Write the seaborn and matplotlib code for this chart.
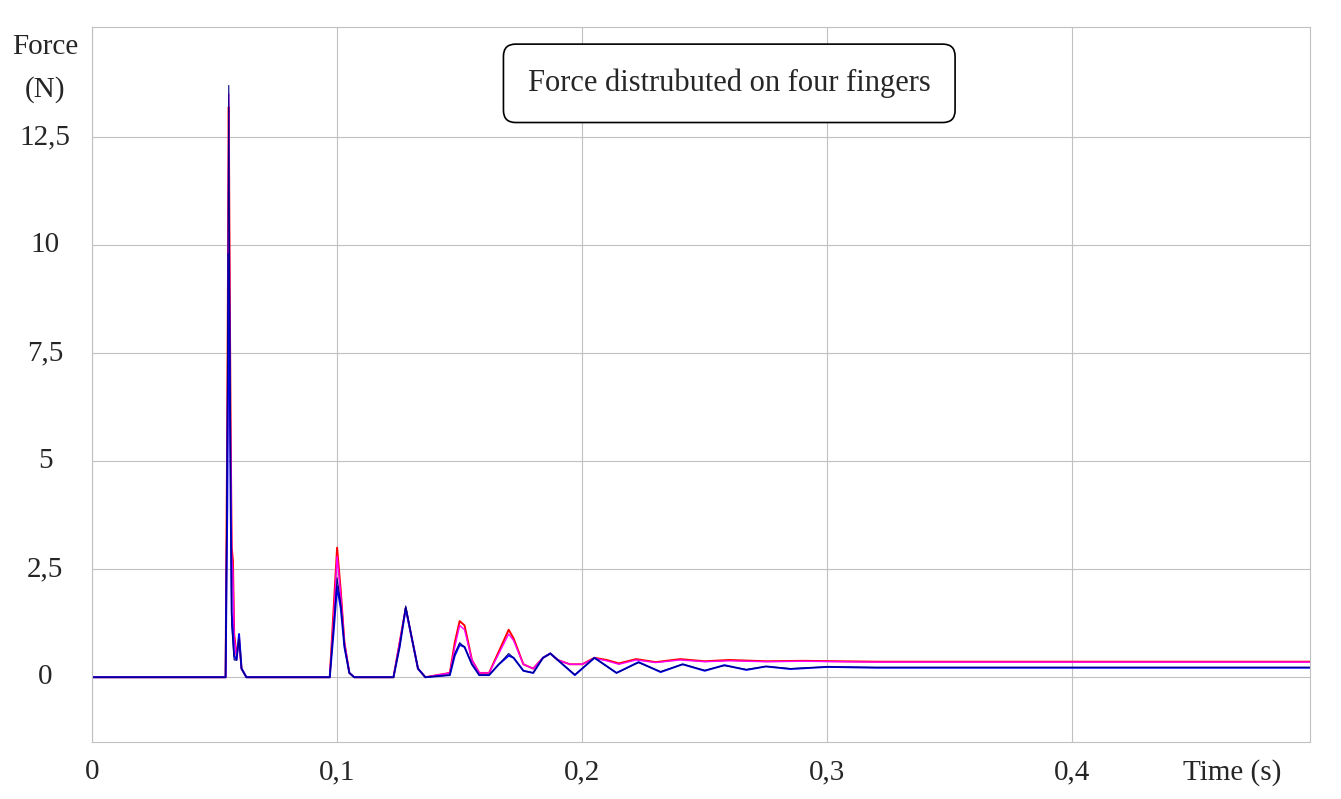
import matplotlib
matplotlib.use("Agg")
import matplotlib.pyplot as plt
import pandas as pd
import seaborn as sns

red_t = [0, 0.0545, 0.0552, 0.0558, 0.0562, 0.0566, 0.057, 0.0575, 0.058, 0.059, 0.060, 0.061, 0.063, 0.097,
         0.0985, 0.100, 0.1015, 0.103, 0.105, 0.107, 0.123, 0.1255, 0.128, 0.1305, 0.133, 0.136, 0.146,
         0.148, 0.150, 0.152, 0.155, 0.158, 0.162, 0.166, 0.170, 0.172, 0.176, 0.180, 0.184, 0.187,
         0.190, 0.195, 0.200, 0.205, 0.210, 0.215, 0.222, 0.230, 0.240, 0.250, 0.260, 0.275, 0.290,
         0.320, 0.350, 0.497]
red_f = [0, 0, 6.0, 13.2, 9.0, 5.5, 3.0, 2.7, 1.0, 0.5, 0.9, 0.2, 0, 0,
         1.5, 3.0, 2.0, 0.8, 0.1, 0, 0, 0.8, 1.6, 0.9, 0.2, 0, 0.1,
         0.8, 1.3, 1.2, 0.4, 0.1, 0.1, 0.6, 1.1, 0.9, 0.3, 0.2, 0.45, 0.55,
         0.4, 0.3, 0.3, 0.45, 0.4, 0.32, 0.42, 0.35, 0.42, 0.37, 0.40, 0.37, 0.38,
         0.36, 0.36, 0.36]
magenta_t = red_t
magenta_f = [0, 0, 5.0, 13.5, 8.0, 5.0, 2.8, 2.4, 0.9, 0.5, 0.8, 0.2, 0, 0,
             1.3, 2.8, 1.9, 0.8, 0.1, 0, 0, 0.8, 1.6, 0.9, 0.2, 0, 0.1,
             0.7, 1.2, 1.1, 0.4, 0.1, 0.1, 0.55, 1.0, 0.85, 0.3, 0.2, 0.45, 0.55,
             0.4, 0.3, 0.3, 0.44, 0.38, 0.3, 0.4, 0.34, 0.4, 0.36, 0.38, 0.36, 0.37,
             0.35, 0.35, 0.35]
blue_t = [0, 0.0545, 0.0552, 0.0558, 0.0562, 0.0566, 0.057, 0.058, 0.059, 0.060, 0.061, 0.063, 0.097,
          0.0985, 0.100, 0.1015, 0.103, 0.105, 0.107, 0.123, 0.1255, 0.128, 0.1305, 0.133, 0.136, 0.146,
          0.148, 0.150, 0.152, 0.155, 0.158, 0.162, 0.166, 0.170, 0.172, 0.176, 0.180, 0.184, 0.187,
          0.190, 0.197, 0.205, 0.214, 0.223, 0.232, 0.241, 0.250, 0.258, 0.267, 0.275, 0.285, 0.300,
          0.320, 0.497]
blue_f = [0, 0, 4.0, 9.8, 7.0, 4.0, 1.5, 0.5, 0.4, 1.0, 0.2, 0, 0,
          1.0, 2.1, 1.6, 0.7, 0.1, 0, 0, 0.7, 1.6, 0.9, 0.2, 0, 0.05,
          0.5, 0.75, 0.7, 0.3, 0.05, 0.05, 0.3, 0.5, 0.45, 0.15, 0.1, 0.45, 0.55,
          0.4, 0.05, 0.45, 0.1, 0.35, 0.12, 0.3, 0.15, 0.28, 0.17, 0.25, 0.19, 0.24,
          0.22, 0.22]
navy_t = blue_t
navy_f = [0, 0, 6.0, 13.7, 8.5, 3.5, 1.2, 0.4, 0.4, 0.9, 0.2, 0, 0,
          1.1, 2.3, 1.7, 0.7, 0.1, 0, 0, 0.7, 1.65, 0.9, 0.2, 0, 0.05,
          0.55, 0.8, 0.7, 0.3, 0.05, 0.05, 0.3, 0.55, 0.45, 0.15, 0.1, 0.45, 0.55,
          0.4, 0.06, 0.45, 0.1, 0.34, 0.13, 0.3, 0.16, 0.27, 0.18, 0.25, 0.2, 0.24,
          0.23, 0.23]

x_ticks = [0, 0.1, 0.2, 0.3, 0.4]
x_labels = ["0", "0,1", "0,2", "0,3", "0,4"]
y_ticks = [0, 2.5, 5, 7.5, 10, 12.5]
y_labels = ["0", "2,5", "5", "7,5", "10", "12,5"]

sns.set_style("white")
plt.rcParams["font.family"] = ["Liberation Serif", "DejaVu Serif"]

fig = plt.figure(figsize=(13.41, 7.99), dpi=100)
ax = fig.add_axes([0.0686, 0.0713, 0.9084, 0.8947])

series = [(red_t, red_f, "red", 1.4), (magenta_t, magenta_f, "#ff00ff", 1.0),
          (blue_t, blue_f, "#0000ff", 1.4), (navy_t, navy_f, "#000080", 0.8)]
for t, f, c, lw in series:
    df = pd.DataFrame({"t": t, "f": f})
    sns.lineplot(data=df, x="t", y="f", ax=ax, color=c, lw=lw, sort=False, estimator=None)

ax.set_xlim(0, 0.497)
ax.set_ylim(-1.5, 15.05)
ax.set_xticks(x_ticks)
ax.set_yticks(y_ticks)
ax.set_xticklabels([])
ax.set_yticklabels([])
ax.grid(True, color="#c0c0c0", lw=0.8)
ax.set_xlabel("")
ax.set_ylabel("")
for s in ax.spines.values():
    s.set_color("#c0c0c0")
ax.tick_params(length=0)

lx = -0.019
for v, lab in zip(y_ticks, y_labels):
    ax.text(lx, v, lab, fontsize=21, ha="center", va="center", clip_on=False)
for v, lab in zip(x_ticks, x_labels):
    ax.text(v, -2.2, lab, fontsize=21, ha="center", va="center", clip_on=False)
ax.text(lx, 14.6, "Force", fontsize=21, ha="center", va="center", clip_on=False)
ax.text(lx, 13.6, "(N)", fontsize=21, ha="center", va="center", clip_on=False)
ax.text(0.465, -2.2, "Time (s)", fontsize=21, ha="center", va="center", clip_on=False)
ax.text(0.26, 13.75, "Force distrubuted on four fingers", fontsize=22, ha="center", va="center",
        bbox=dict(boxstyle="round,pad=0.8,rounding_size=0.4", fc="white", ec="black", lw=1.2))

fig.savefig("out.png", dpi=100)
